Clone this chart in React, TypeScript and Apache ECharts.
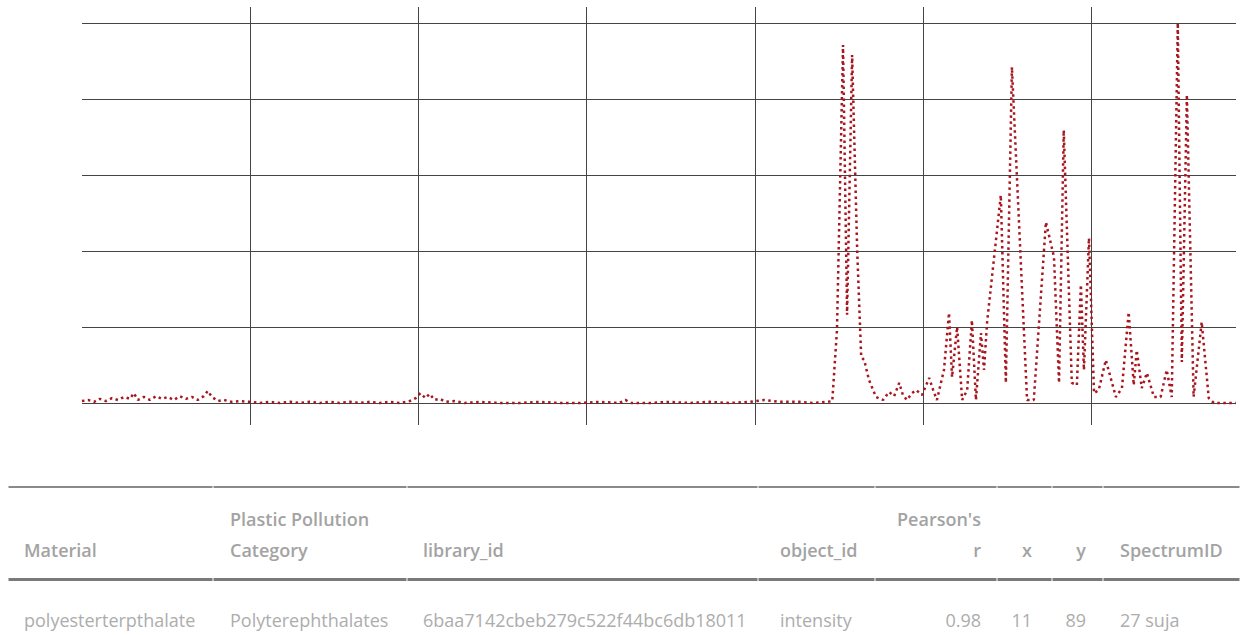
import React, { useEffect, useRef } from "react";
import * as echarts from "echarts";

// Spectrum, quiet region (wavenumber, normalised intensity)
const baselineWavenumber = [
  0, 18, 36, 53, 71, 89, 107, 125, 143, 154, 166, 184, 202, 220, 238, 255, 273, 291, 309, 327,
  344, 362, 374, 386, 404, 422, 445, 469, 499, 528, 558, 588, 618, 647, 677, 707, 736, 766, 796, 825,
  855, 885, 914, 944, 974, 992, 1006, 1021, 1033, 1048, 1063, 1081, 1107, 1137, 1182, 1241, 1300, 1360, 1419, 1479,
  1538, 1597, 1615, 1633, 1686, 1746, 1805, 1864, 1924, 1983, 2028, 2072, 2132, 2176, 2215,
];
const baselineIntensity = [
  0.005, 0.008, 0.003, 0.011, 0.005, 0.013, 0.008, 0.016, 0.011, 0.026, 0.008, 0.016, 0.008, 0.018, 0.011, 0.016, 0.008, 0.018, 0.011, 0.016,
  0.008, 0.018, 0.032, 0.016, 0.005, 0.008, 0.003, 0.005, 0.003, 0, 0.003, 0, 0.003, 0, 0.003, 0, 0.003, 0, 0.003, 0,
  0.003, 0, 0.003, 0, 0.005, 0.013, 0.026, 0.013, 0.024, 0.008, 0.011, 0.003, 0.005, 0, 0.003, 0, 0, 0.003, 0, 0,
  0.003, 0, 0.008, 0, 0, 0.003, 0, 0.003, 0, 0.003, 0.008, 0.003, 0.003, 0, 0.003,
];

// Spectrum, band region
const peakWavenumber = [
  2230, 2244, 2262, 2274, 2289, 2304, 2316, 2325, 2339, 2360, 2381, 2399, 2414, 2429, 2440, 2452, 2467, 2479, 2497, 2518,
  2530, 2541, 2562, 2577, 2586, 2601, 2616, 2631, 2645, 2657, 2672, 2681, 2690, 2731, 2746, 2764, 2809, 2829, 2865, 2889,
  2904, 2918, 2942, 2957, 2969, 2978, 2993, 3008, 3022, 3043, 3073, 3091, 3111, 3126, 3135, 3150, 3165, 3186, 3206, 3224,
  3239, 3257, 3269, 3284, 3304, 3328, 3349, 3364, 3430,
];
const peakIntensity = [
  0.005, 0.192, 0.942, 0.232, 0.916, 0.403, 0.121, 0.113, 0.061, 0.016, 0.008, 0.029, 0.018, 0.053, 0.021, 0.008, 0.026, 0.034, 0.021, 0.066,
  0.034, 0.008, 0.087, 0.237, 0.068, 0.2, 0.008, 0.034, 0.218, 0.008, 0.184, 0.087, 0.211, 0.547, 0.053, 0.884, 0.008, 0.008, 0.476, 0.384,
  0.053, 0.718, 0.053, 0.047, 0.311, 0.087, 0.434, 0.026, 0.034, 0.113, 0.016, 0.039, 0.239, 0.047, 0.139, 0.039, 0.079, 0.016, 0.016, 0.087,
  0.016, 1.0, 0.108, 0.811, 0.016, 0.213, 0.013, 0, 0,
];

const xMin = 0;
const xMax = 3430;
const xInterval = 500;
const yMin = 0;
const yMax = 1;
const yInterval = 0.2;

// Table
const headerTop = ["", "Plastic Pollution", "", "", "Pearson's", "", "", ""];
const headerBottom = ["Material", "Category", "library_id", "object_id", "r", "x", "y", "SpectrumID"];
const rowValues = [
  "polyesterterpthalate",
  "Polyterephthalates",
  "6baa7142cbeb279c522f44bc6db18011",
  "intensity",
  "0.98",
  "11",
  "89",
  "27 suja",
];

export default function App() {
  const ref = useRef<HTMLDivElement>(null);

  useEffect(() => {
    if (!ref.current) return;
    const chart = echarts.init(ref.current, null, { renderer: "svg" });

    const spectrum = [
      ...baselineWavenumber.map((x, i) => [x, baselineIntensity[i]]),
      ...peakWavenumber.map((x, i) => [x, peakIntensity[i]]),
    ];

    const gridLine = "#444";
    const colX = [24, 230, 423, 780, 981, 1032, 1086, 1120];
    const colAlign = ["left", "left", "left", "left", "right", "right", "right", "left"];
    const ruleEdges = [8, 213, 407, 758, 875, 997, 1052, 1103, 1240];
    const fontFamily = '"Open Sans", "Noto Sans", sans-serif';

    const graphics: any[] = [];
    for (let i = 0; i < ruleEdges.length - 1; i++) {
      const x0 = ruleEdges[i] + 0.5;
      const w = ruleEdges[i + 1] - ruleEdges[i] - 1;
      graphics.push({
        type: "rect",
        silent: true,
        shape: { x: x0, y: 486, width: w, height: 2 },
        style: { fill: "#8a8a8a" },
      });
      graphics.push({
        type: "rect",
        silent: true,
        shape: { x: x0, y: 578, width: w, height: 3 },
        style: { fill: "#7a7a7a" },
      });
    }
    const addText = (txt: string, x: number, y: number, align: string, weight: any, color: string) => {
      if (!txt) return;
      graphics.push({
        type: "text",
        silent: true,
        x,
        y,
        style: {
          text: txt,
          fill: color,
          fontFamily,
          fontSize: 18,
          fontWeight: weight,
          align,
          textAlign: align,
          verticalAlign: "middle",
          textVerticalAlign: "middle",
        },
      });
    };
    for (let i = 0; i < colX.length; i++) {
      addText(headerTop[i], colX[i], 519, colAlign[i], 600, "#a3a3a3");
      addText(headerBottom[i], colX[i], 550, colAlign[i], 600, "#a3a3a3");
      addText(rowValues[i], colX[i], 620, colAlign[i], 400, "#adadad");
    }

    chart.setOption({
      animation: false,
      backgroundColor: "#ffffff",
      grid: [
        { left: 82, right: 4, top: 23, height: 380 },
        { left: 82, right: 4, top: 7, height: 418 },
      ],
      xAxis: [
        {
          gridIndex: 0,
          type: "value",
          min: xMin,
          max: xMax,
          interval: xInterval,
          show: false,
        },
        {
          gridIndex: 1,
          type: "value",
          min: xMin,
          max: xMax,
          interval: xInterval,
          axisLine: { show: false },
          axisTick: { show: false },
          axisLabel: { show: false },
          splitLine: {
            show: true,
            showMinLine: false,
            showMaxLine: false,
            lineStyle: { color: gridLine, width: 1 },
          },
        },
      ],
      yAxis: [
        {
          gridIndex: 0,
          type: "value",
          min: yMin,
          max: yMax,
          interval: yInterval,
          axisLine: { show: false },
          axisTick: { show: false },
          axisLabel: { show: false },
          splitLine: { show: true, lineStyle: { color: gridLine, width: 1 } },
        },
        {
          gridIndex: 1,
          type: "value",
          min: 0,
          max: 1,
          show: false,
        },
      ],
      series: [
        {
          type: "line",
          xAxisIndex: 0,
          yAxisIndex: 0,
          data: spectrum,
          symbol: "none",
          showSymbol: false,
          clip: false,
          z: 5,
          lineStyle: { color: "#a8161f", width: 2.5, type: [2.5, 3.5], cap: "butt" },
        },
      ],
      graphic: graphics,
    });

    return () => chart.dispose();
  }, []);

  return (
    <div
      ref={ref}
      style={{ position: "fixed", left: 0, top: 0, width: 1240, height: 635, background: "#fff" }}
    />
  );
}
